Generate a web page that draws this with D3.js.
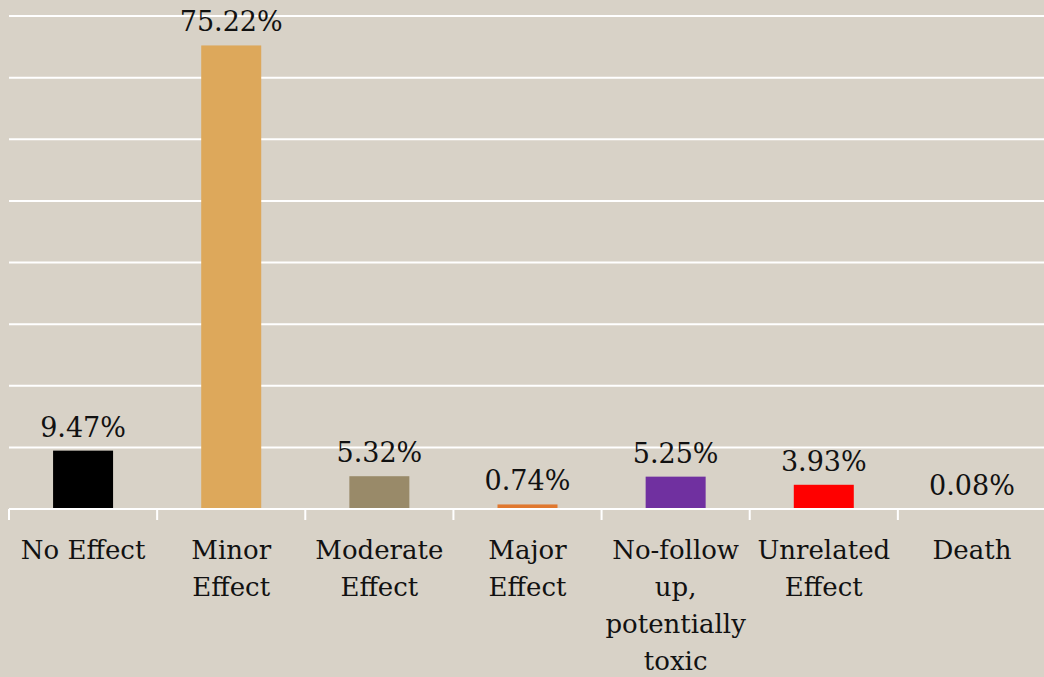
<!DOCTYPE html>
<html>
<head>
<meta charset="utf-8">
<script src="https://cdn.jsdelivr.net/npm/d3@7"></script>
<style>
  body { margin: 0; background: #d8d2c7; }
  svg { display: block; }
</style>
</head>
<body>
<div id="chart"></div>
<script>
// chart data
var categories = ["No Effect", "Minor Effect", "Moderate Effect", "Major Effect", "No-follow up, potentially toxic", "Unrelated Effect", "Death"];
var labelLines = [["No Effect"], ["Minor", "Effect"], ["Moderate", "Effect"], ["Major", "Effect"], ["No-follow", "up,", "potentially", "toxic"], ["Unrelated", "Effect"], ["Death"]];
var values = [9.47, 75.22, 5.32, 0.74, 5.25, 3.93, 0.08];
var barColors = ["#000000", "#dda85b", "#998a69", "#e0782f", "#7030a0", "#ff0000", "#c0504d"];
var gridTicks = [0, 10, 20, 30, 40, 50, 60, 70, 80];

var width = 1044, height = 677;
var margin = { top: 16, right: -2, bottom: 168, left: 9 };

var svg = d3.select("#chart")
  .append("svg")
  .attr("width", width)
  .attr("height", height);

svg.append("rect")
  .attr("width", width)
  .attr("height", height)
  .attr("fill", "#d8d2c7");

var x = d3.scaleBand()
  .domain(categories)
  .range([margin.left, width - margin.right])
  .paddingInner(0.595)
  .paddingOuter(0.2975);

var y = d3.scaleLinear()
  .domain([0, 80])
  .range([height - margin.bottom, margin.top]);

// gridlines
svg.append("g")
  .selectAll("line")
  .data(gridTicks)
  .enter()
  .append("line")
  .attr("x1", margin.left)
  .attr("x2", width)
  .attr("y1", function (d) { return y(d); })
  .attr("y2", function (d) { return y(d); })
  .attr("stroke", "#ffffff")
  .attr("stroke-width", 2);

// bars
svg.append("g")
  .selectAll("rect")
  .data(values)
  .enter()
  .append("rect")
  .attr("x", function (d, i) { return x(categories[i]); })
  .attr("width", x.bandwidth())
  .attr("y", function (d) { return y(d); })
  .attr("height", function (d) { return y(0) - y(d); })
  .attr("fill", function (d, i) { return barColors[i]; });

// axis baseline + ticks at category boundaries
var step = x.step();
var boundaries = d3.range(categories.length + 1).map(function (i) {
  return margin.left + i * step;
});
svg.append("line")
  .attr("x1", margin.left)
  .attr("x2", width)
  .attr("y1", y(0))
  .attr("y2", y(0))
  .attr("stroke", "#ffffff")
  .attr("stroke-width", 2);
svg.append("g")
  .selectAll("line")
  .data(boundaries)
  .enter()
  .append("line")
  .attr("x1", function (d) { return d; })
  .attr("x2", function (d) { return d; })
  .attr("y1", y(0))
  .attr("y2", y(0) + 11)
  .attr("stroke", "#ffffff")
  .attr("stroke-width", 2);

var font = "'DejaVu Serif', serif";

// value labels
svg.append("g")
  .selectAll("text")
  .data(values)
  .enter()
  .append("text")
  .attr("x", function (d, i) { return x(categories[i]) + x.bandwidth() / 2; })
  .attr("y", function (d) { return y(d) - 14; })
  .attr("text-anchor", "middle")
  .style("font-family", font)
  .style("font-size", "27px")
  .attr("fill", "#111")
  .text(function (d) { return d.toFixed(2) + "%"; });

// category labels
var labels = svg.append("g")
  .selectAll("text")
  .data(labelLines)
  .enter()
  .append("text")
  .attr("x", function (d, i) { return x(categories[i]) + x.bandwidth() / 2; })
  .attr("y", y(0) + 50)
  .attr("text-anchor", "middle")
  .style("font-family", font)
  .style("font-size", "26px")
  .attr("fill", "#111");

labels.selectAll("tspan")
  .data(function (d) { return d; })
  .enter()
  .append("tspan")
  .attr("x", function () { return d3.select(this.parentNode).attr("x"); })
  .attr("dy", function (d, i) { return i === 0 ? 0 : 37; })
  .text(function (d) { return d; });
</script>
</body>
</html>
